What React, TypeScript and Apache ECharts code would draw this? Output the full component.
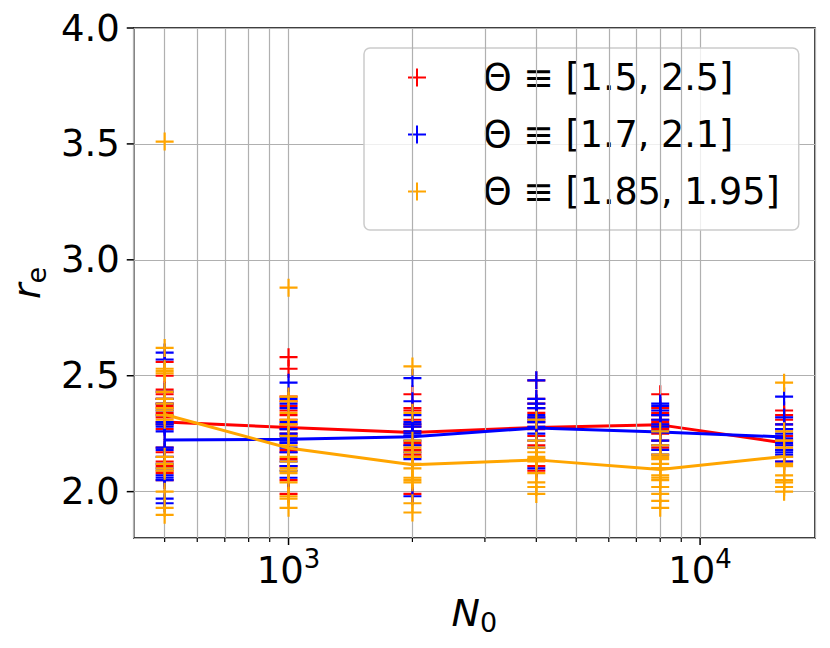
import React, { useEffect, useRef } from "react";
import * as echarts from "echarts";

const N0 = [500, 1000, 2000, 4000, 8000, 16000];

const SERIES_NAMES = ["Θ ≡ [1.5, 2.5]", "Θ ≡ [1.7, 2.1]", "Θ ≡ [1.85, 1.95]"];
const COLORS = ["#ff0000", "#0000ff", "#ffa500"];

// samples of r_e per N0 (one inner array per N0)
const RED_SAMPLES = [
  [2.56, 2.5, 2.44, 2.42, 2.4, 2.38, 2.37, 2.36, 2.34, 2.32, 2.3, 2.29, 2.27, 2.19, 2.17, 2.13, 2.11, 2.09, 2.08, 2.05],
  [2.58, 2.53, 2.41, 2.39, 2.37, 2.35, 2.33, 2.31, 2.29, 2.27, 2.25, 2.21, 2.18, 2.17, 2.14, 2.11, 2.05, 1.99],
  [2.42, 2.36, 2.35, 2.31, 2.29, 2.28, 2.26, 2.24, 2.21, 2.2, 2.18, 2.16, 2.15, 1.99],
  [2.48, 2.4, 2.38, 2.36, 2.34, 2.32, 2.3, 2.28, 2.27, 2.24, 2.2, 2.11, 2.09],
  [2.42, 2.36, 2.34, 2.33, 2.31, 2.3, 2.29, 2.28, 2.27, 2.25, 2.22, 2.19],
  [2.35, 2.33, 2.31, 2.29, 2.27, 2.24, 2.22, 2.2, 2.18, 2.15, 2.13],
];
const BLUE_SAMPLES = [
  [2.6, 2.57, 2.43, 2.4, 2.38, 2.35, 2.33, 2.3, 2.29, 2.28, 2.26, 2.19, 2.18, 2.15, 2.12, 2.1, 2.07, 2.06, 2.05, 1.97, 1.95],
  [2.47, 2.4, 2.38, 2.36, 2.3, 2.27, 2.25, 2.24, 2.23, 2.22, 2.21, 2.19, 2.17, 2.13, 2.11, 2.09, 2.06],
  [2.49, 2.39, 2.33, 2.3, 2.29, 2.28, 2.26, 2.25, 2.24, 2.22, 2.2, 2.17, 2.14, 1.98],
  [2.48, 2.4, 2.38, 2.36, 2.33, 2.32, 2.31, 2.3, 2.28, 2.25, 2.22, 2.19, 2.1],
  [2.38, 2.37, 2.35, 2.33, 2.31, 2.29, 2.28, 2.26, 2.22, 2.2, 2.18, 2.16],
  [2.41, 2.32, 2.29, 2.27, 2.25, 2.23, 2.21, 2.2, 2.18, 2.17, 2.16, 2.13],
];
const ORANGE_SAMPLES = [
  [3.51, 2.62, 2.53, 2.52, 2.51, 2.43, 2.4, 2.38, 2.36, 2.35, 2.33, 2.31, 2.15, 2.12, 2.1, 2.09, 2.0, 1.93, 1.9],
  [2.88, 2.41, 2.39, 2.34, 2.31, 2.29, 2.24, 2.2, 2.15, 2.13, 2.1, 2.09, 2.08, 2.04, 1.98, 1.97, 1.93],
  [2.54, 2.34, 2.22, 2.19, 2.17, 2.15, 2.12, 2.1, 2.06, 2.05, 2.04, 1.95, 1.91],
  [2.31, 2.22, 2.19, 2.17, 2.15, 2.14, 2.14, 2.13, 2.08, 2.04, 2.02, 1.99],
  [2.26, 2.2, 2.16, 2.15, 2.14, 2.12, 2.1, 2.1, 2.07, 2.06, 2.05, 2.02, 1.99, 1.96, 1.93],
  [2.47, 2.26, 2.22, 2.19, 2.15, 2.12, 2.11, 2.07, 2.05, 2.04, 2.02, 2.0],
];

// mean lines
const RED_MEAN = [2.3, 2.277, 2.255, 2.277, 2.288, 2.21];
const BLUE_MEAN = [2.223, 2.226, 2.237, 2.275, 2.257, 2.236];
const ORANGE_MEAN = [2.333, 2.188, 2.116, 2.137, 2.095, 2.152];

const X_MIN = 420.6;
const X_MAX = 19020;
const Y_MIN = 1.8;
const Y_MAX = 4.0;
const X_MAJOR = [1000, 10000];
const X_MINOR = [500, 600, 700, 800, 900, 2000, 3000, 4000, 5000, 6000, 7000, 8000, 9000];
const Y_TICKS = [2.0, 2.5, 3.0, 3.5, 4.0];

const PLUS = "path://M5 0L5 10M0 5L10 5";
const FONT = "DejaVu Sans";

export default function App() {
  const ref = useRef<HTMLDivElement>(null);
  useEffect(() => {
    if (!ref.current) return;
    const chart = echarts.init(ref.current, undefined, { renderer: "svg" });
    const samples = [RED_SAMPLES, BLUE_SAMPLES, ORANGE_SAMPLES];
    const means = [RED_MEAN, BLUE_MEAN, ORANGE_MEAN];
    const series: any[] = [
      {
        type: "line",
        name: "grid",
        data: [],
        z: 1,
        silent: true,
        markLine: {
          silent: true,
          symbol: "none",
          label: { show: false },
          lineStyle: { color: "#b0b0b0", width: 1.2, type: "solid" },
          data: X_MINOR.map((v) => ({ xAxis: v })),
        },
      },
    ];
    for (let s = 0; s < 3; s++) {
      const pts: number[][] = [];
      samples[s].forEach((arr, i) => arr.forEach((v) => pts.push([N0[i], v])));
      series.push({
        type: "scatter",
        name: SERIES_NAMES[s],
        data: pts,
        symbol: PLUS,
        symbolSize: 18,
        itemStyle: { color: COLORS[s], borderColor: COLORS[s], borderWidth: 2.2, opacity: 1 },
        z: 3 + s * 2,
      });
      series.push({
        type: "line",
        name: "mean" + s,
        data: N0.map((n, i) => [n, means[s][i]]),
        showSymbol: false,
        symbol: "none",
        lineStyle: { color: COLORS[s], width: 3 },
        z: 4 + s * 2,
      });
    }
    const option: any = {
      animation: false,
      textStyle: { fontFamily: FONT },
      grid: {
        left: 132,
        top: 28,
        right: 15,
        bottom: 110,
        show: true,
        borderColor: "#000",
        borderWidth: 1.5,
        backgroundColor: "transparent",
      },
      legend: {
        data: SERIES_NAMES,
        orient: "vertical",
        left: 364,
        top: 48,
        padding: [11, 19, 20, 43],
        itemWidth: 18,
        itemHeight: 18,
        itemGap: 20,
        icon: PLUS,
        backgroundColor: "rgba(255,255,255,0.8)",
        borderColor: "#cccccc",
        borderWidth: 1.5,
        borderRadius: 6,
        textStyle: { fontSize: 36.5, color: "#000", fontFamily: FONT, padding: [0, 0, 0, 52] },
      },
      xAxis: {
        type: "log",
        logBase: 10,
        min: X_MIN,
        max: X_MAX,
        axisLine: { show: false },
        axisTick: { show: false },
        splitLine: { show: true, lineStyle: { color: "#b0b0b0", width: 1.2 } },
        axisLabel: {
          margin: 8,
          formatter: (v: number) => {
            const e = Math.round(Math.log10(v));
            if (Math.abs(v - Math.pow(10, e)) / v < 1e-6) return "{b|10}{s|" + e + "}";
            return "";
          },
          rich: {
            b: { fontSize: 37, fontFamily: FONT, color: "#000", verticalAlign: "bottom", padding: [6, 0, 0, 0] },
            s: { fontSize: 26, fontFamily: FONT, color: "#000", verticalAlign: "top" },
          },
        },
        name: "{n|N}{s|0}",
        nameLocation: "middle",
        nameGap: 50,
        nameTextStyle: {
          rich: {
            n: { fontSize: 38, fontStyle: "italic", fontFamily: FONT, color: "#000", verticalAlign: "bottom", padding: [0, 0, 4, 0] },
            s: { fontSize: 27, fontFamily: FONT, color: "#000", verticalAlign: "bottom" },
          },
        },
      },
      yAxis: {
        type: "value",
        min: Y_MIN,
        max: Y_MAX,
        axisLine: { show: false },
        axisTick: { show: false },
        splitLine: { show: true, lineStyle: { color: "#b0b0b0", width: 1.2 } },
        axisLabel: {
          margin: 14,
          fontSize: 37,
          color: "#000",
          fontFamily: FONT,
          formatter: (v: number) => (Math.abs(v * 2 - Math.round(v * 2)) < 1e-6 ? v.toFixed(1) : ""),
        },
        name: "{n|r}{s|e}",
        nameLocation: "middle",
        nameRotate: 90,
        nameGap: 82,
        nameTextStyle: {
          rich: {
            n: { fontSize: 38, fontStyle: "italic", fontFamily: FONT, color: "#000", verticalAlign: "bottom", padding: [0, 0, 4, 0] },
            s: { fontSize: 27, fontFamily: FONT, color: "#000", verticalAlign: "bottom" },
          },
        },
      },
      series,
    };
    chart.setOption(option);

    // axis ticks, placed through the chart's own scales
    const yBottom = chart.convertToPixel({ yAxisIndex: 0 }, Y_MIN) as number;
    const xLeft = chart.convertToPixel({ xAxisIndex: 0 }, X_MIN) as number;
    const g: any[] = [];
    const tickStyle = { stroke: "#000", lineWidth: 1.5 };
    X_MAJOR.forEach((v) => {
      const x = chart.convertToPixel({ xAxisIndex: 0 }, v) as number;
      g.push({ type: "line", shape: { x1: x, y1: yBottom, x2: x, y2: yBottom + 7 }, style: tickStyle, z: 100 });
    });
    X_MINOR.forEach((v) => {
      const x = chart.convertToPixel({ xAxisIndex: 0 }, v) as number;
      g.push({ type: "line", shape: { x1: x, y1: yBottom, x2: x, y2: yBottom + 4 }, style: { stroke: "#000", lineWidth: 1.2 }, z: 100 });
    });
    Y_TICKS.forEach((v) => {
      const y = chart.convertToPixel({ yAxisIndex: 0 }, v) as number;
      g.push({ type: "line", shape: { x1: xLeft - 7, y1: y, x2: xLeft, y2: y }, style: tickStyle, z: 100 });
    });
    chart.setOption({ graphic: g });

    return () => chart.dispose();
  }, []);
  return <div ref={ref} style={{ position: "fixed", left: 0, top: 0, width: 830, height: 648, background: "#fff" }} />;
}
